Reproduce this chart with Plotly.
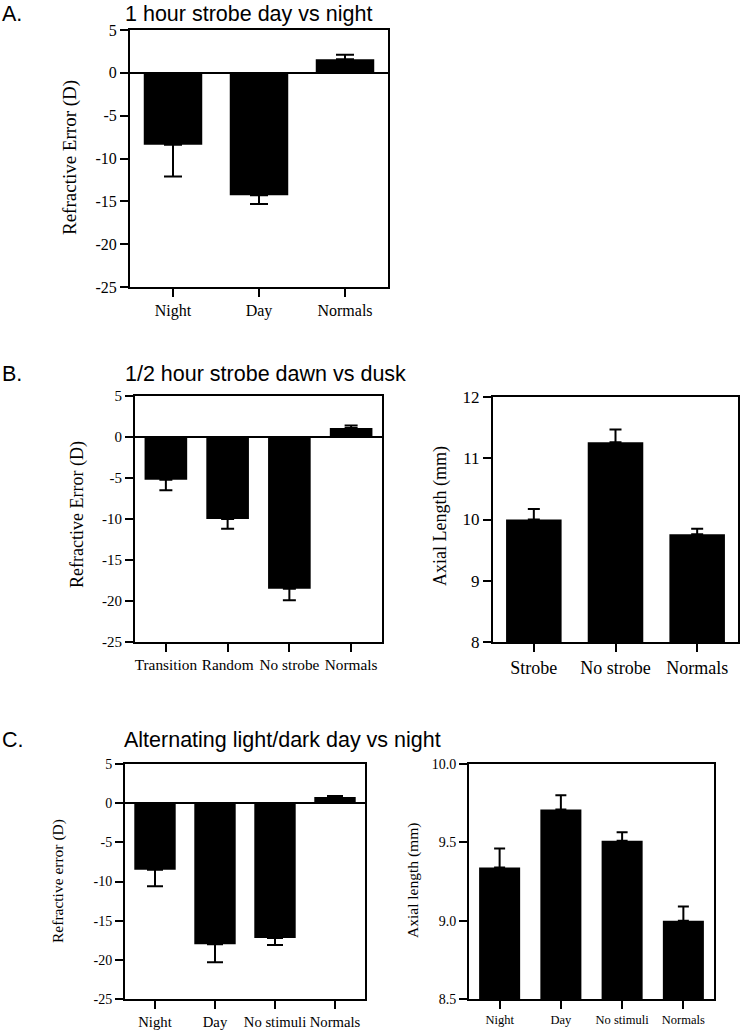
import plotly.graph_objects as go

W, H = 743, 1030

# ---------------- data ----------------
a_cats = ["Night", "Day", "Normals"]
a_vals = [-8.4, -14.3, 1.6]
a_err = [3.7, 1.0, 0.5]

b1_cats = ["Transition", "Random", "No strobe", "Normals"]
b1_vals = [-5.2, -10.0, -18.5, 1.1]
b1_err = [1.3, 1.2, 1.4, 0.3]

b2_cats = ["Strobe", "No strobe", "Normals"]
b2_vals = [10.0, 11.26, 9.76]
b2_err = [0.17, 0.21, 0.09]

c1_cats = ["Night", "Day", "No stimuli", "Normals"]
c1_vals = [-8.5, -18.0, -17.2, 0.8]
c1_err = [2.1, 2.3, 0.9, 0.1]

c2_cats = ["Night", "Day", "No stimuli", "Normals"]
c2_vals = [9.34, 9.71, 9.51, 9.00]
c2_err = [0.12, 0.09, 0.055, 0.09]

refr_ticks = [5, 0, -5, -10, -15, -20, -25]
refr_ticktext = ["5", "0", "-5", "-10", "-15", "-20", "-25"]
b2_ticks = [12, 11, 10, 9, 8]
b2_ticktext = ["12", "11", "10", "9", "8"]
c2_ticks = [10.0, 9.5, 9.0, 8.5]
c2_ticktext = ["10.0", "9.5", "9.0", "8.5"]

panel_titles = ["1 hour strobe day vs night", "1/2 hour strobe dawn vs dusk",
                "Alternating light/dark day vs night"]
panel_letters = ["A.", "B.", "C."]

# ---------------- layout helpers ----------------
def px_x(p):
    return p / W

def px_y(p):
    return 1 - p / H

SERIF = "Liberation Serif, Times New Roman, serif"
SANS = "Liberation Sans, Arial, Helvetica, sans-serif"

panels = [
    dict(cats=a_cats, vals=a_vals, err=a_err, box=(130, 388, 30, 287),
         yrange=[-25, 5], tv=refr_ticks, tt=refr_ticktext, xr=[-0.5, 2.5],
         xfs=16, yfs=16, cap=9, bw=0.68, zero=True,
         ytitle="Refractive Error (D)", yt_pos=(70, 158), yt_fs=19),
    dict(cats=b1_cats, vals=b1_vals, err=b1_err, box=(135, 382, 396, 642),
         yrange=[-25, 5], tv=refr_ticks, tt=refr_ticktext, xr=[-0.5, 3.5],
         xfs=15.3, yfs=15, cap=6.5, bw=0.69, zero=True,
         ytitle="Refractive Error (D)", yt_pos=(77, 515), yt_fs=18),
    dict(cats=b2_cats, vals=b2_vals, err=b2_err, box=(493, 738, 397, 642),
         yrange=[8, 12], tv=b2_ticks, tt=b2_ticktext, xr=[-0.5, 2.5],
         xfs=18, yfs=17, cap=6, bw=0.68, zero=False,
         ytitle="Axial Length (mm)", yt_pos=(440, 516), yt_fs=18),
    dict(cats=c1_cats, vals=c1_vals, err=c1_err, box=(125, 365, 764, 999),
         yrange=[-25, 5], tv=refr_ticks, tt=refr_ticktext, xr=[-0.5, 3.5],
         xfs=14.7, yfs=14, cap=8, bw=0.69, zero=True,
         ytitle="Refractive error (D)", yt_pos=(58, 881), yt_fs=15.5),
    dict(cats=c2_cats, vals=c2_vals, err=c2_err, box=(469, 714, 764, 999),
         yrange=[8.5, 10.0], tv=c2_ticks, tt=c2_ticktext, xr=[-0.5, 3.5],
         xfs=12.5, yfs=14, cap=5.5, bw=0.67, zero=False,
         ytitle="Axial length (mm)", yt_pos=(413, 881), yt_fs=15.5),
]

fig = go.Figure()
layout = dict(width=W, height=H, margin=dict(l=0, r=0, t=0, b=0, pad=0),
              autosize=False,
              paper_bgcolor="white", plot_bgcolor="white", showlegend=False,
              bargap=0.3)
annotations = []

for i, p in enumerate(panels):
    n = "" if i == 0 else str(i + 1)
    xa, ya = "x" + n, "y" + n
    plus = [e if v >= 0 else 0 for v, e in zip(p["vals"], p["err"])]
    minus = [e if v < 0 else 0 for v, e in zip(p["vals"], p["err"])]
    fig.add_trace(go.Bar(
        x=p["cats"], y=p["vals"], xaxis=xa, yaxis=ya, width=p["bw"],
        marker=dict(color="black", line=dict(width=0)),
        error_y=dict(type="data", symmetric=False, array=plus, arrayminus=minus,
                     color="black", thickness=2, width=p["cap"]),
        hoverinfo="x+y"))
    x0, x1, y0, y1 = p["box"]
    layout["xaxis" + n] = dict(
        domain=[px_x(x0), px_x(x1)], anchor=ya, range=p["xr"],
        type="category", showline=True, linecolor="black", linewidth=2,
        mirror=True, ticks="outside", ticklen=8, tickwidth=2, tickcolor="black",
        showgrid=False, zeroline=False, automargin=False,
        tickfont=dict(family=SERIF, size=p["xfs"], color="black"), fixedrange=True)
    layout["yaxis" + n] = dict(
        domain=[px_y(y1), px_y(y0)], anchor=xa, range=p["yrange"],
        tickmode="array", tickvals=p["tv"], ticktext=p["tt"],
        showline=True, linecolor="black", linewidth=2, mirror=True,
        ticks="outside", ticklen=8, tickwidth=2, tickcolor="black",
        showgrid=False, zeroline=p["zero"], zerolinecolor="black",
        zerolinewidth=2, automargin=False,
        tickfont=dict(family=SERIF, size=p["yfs"], color="black"), fixedrange=True)
    annotations.append(dict(
        text=p["ytitle"], textangle=-90, xref="paper", yref="paper",
        x=px_x(p["yt_pos"][0]), y=px_y(p["yt_pos"][1]),
        xanchor="center", yanchor="middle", showarrow=False,
        font=dict(family=SERIF, size=p["yt_fs"], color="black")))

# (y, anchor, x) for each panel header row
title_rows = [(0, "top", 123), (374, "middle", 123), (740, "middle", 122)]
title_size = 21.5
for (ty, yanc, tx), t, letter in zip(title_rows, panel_titles, panel_letters):
    annotations.append(dict(
        text=letter, xref="paper", yref="paper", x=px_x(0), y=px_y(ty),
        xanchor="left", yanchor=yanc, showarrow=False,
        font=dict(family=SANS, size=title_size, color="black")))
    annotations.append(dict(
        text=t, xref="paper", yref="paper", x=px_x(tx), y=px_y(ty),
        xanchor="left", yanchor=yanc, showarrow=False,
        font=dict(family=SANS, size=title_size, color="black")))

layout["annotations"] = annotations
fig.update_layout(**layout)
fig.write_html("out.html", config={"responsive": False, "displayModeBar": False},
               post_script="document.body.style.margin='0';document.body.style.overflow='hidden';")
